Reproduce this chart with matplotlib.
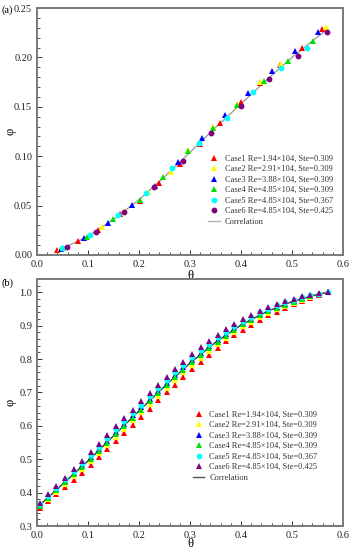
import matplotlib
matplotlib.use("Agg")
import matplotlib.pyplot as plt
from matplotlib.ticker import MultipleLocator

plt.rcParams['font.family'] = ['Liberation Serif', 'DejaVu Serif']
plt.rcParams['mathtext.fontset'] = 'stix'

labels = ["Case1 Re=1.94\u00d7104, Ste=0.309",
          "Case2 Re=2.91\u00d7104, Ste=0.309",
          "Case3 Re=3.88\u00d7104, Ste=0.309",
          "Case4 Re=4.85\u00d7104, Ste=0.309",
          "Case5 Re=4.85\u00d7104, Ste=0.367",
          "Case6 Re=4.85\u00d7104, Ste=0.425"]
colors = ["#ff0000", "#ffff00", "#0000ff", "#00e000", "#00ffff", "#800080"]

# ---------------- panel (a) ----------------
a_theta1 = [0.040, 0.081, 0.120, 0.163, 0.201, 0.240, 0.280, 0.320, 0.359, 0.400, 0.437, 0.476, 0.519, 0.559]
a_phi1 = [0.005, 0.014, 0.025, 0.041, 0.055, 0.073, 0.092, 0.112, 0.134, 0.155, 0.174, 0.192, 0.210, 0.229]
a_theta2 = [0.045, 0.127, 0.172, 0.218, 0.262, 0.297, 0.345, 0.392, 0.437, 0.478, 0.566]
a_phi2 = [0.006, 0.028, 0.045, 0.064, 0.084, 0.106, 0.130, 0.153, 0.175, 0.193, 0.231]
a_theta3 = [0.048, 0.092, 0.139, 0.186, 0.232, 0.277, 0.323, 0.369, 0.414, 0.461, 0.506, 0.551]
a_phi3 = [0.006, 0.017, 0.032, 0.051, 0.070, 0.094, 0.118, 0.142, 0.164, 0.186, 0.206, 0.226]
a_theta4 = [0.050, 0.098, 0.149, 0.201, 0.247, 0.297, 0.345, 0.392, 0.445, 0.493, 0.541]
a_phi4 = [0.007, 0.018, 0.036, 0.056, 0.079, 0.105, 0.129, 0.152, 0.176, 0.196, 0.217]
a_theta5 = [0.049, 0.104, 0.159, 0.213, 0.265, 0.318, 0.372, 0.424, 0.478, 0.529]
a_phi5 = [0.007, 0.020, 0.040, 0.063, 0.088, 0.113, 0.139, 0.165, 0.189, 0.210]
a_theta6 = [0.058, 0.115, 0.171, 0.229, 0.286, 0.341, 0.400, 0.455, 0.512, 0.569]
a_phi6 = [0.008, 0.023, 0.044, 0.069, 0.095, 0.123, 0.151, 0.178, 0.201, 0.226]
a_corr_theta = [0.04, 0.10, 0.15, 0.20, 0.25, 0.30, 0.35, 0.40, 0.45, 0.50, 0.57]
a_corr_phi = [0.004, 0.019, 0.036, 0.056, 0.079, 0.104, 0.129, 0.153, 0.177, 0.200, 0.229]

# ---------------- panel (b) ----------------
b_theta = [0.005, 0.022, 0.038, 0.055, 0.072, 0.088, 0.105, 0.121, 0.138, 0.155,
           0.171, 0.188, 0.204, 0.221, 0.238, 0.254, 0.271, 0.287, 0.304, 0.321,
           0.337, 0.354, 0.370, 0.387, 0.404, 0.420, 0.437, 0.453, 0.470, 0.487,
           0.503, 0.520, 0.536, 0.553, 0.570]
b_phi1 = [0.355, 0.376, 0.396, 0.418, 0.439, 0.460, 0.484, 0.507, 0.530, 0.555,
          0.578, 0.603, 0.627, 0.652, 0.676, 0.700, 0.723, 0.746, 0.769, 0.791,
          0.812, 0.834, 0.853, 0.871, 0.888, 0.902, 0.918, 0.931, 0.942, 0.953,
          0.964, 0.974, 0.983, 0.993, 1.000]
b_phi2 = [0.359, 0.382, 0.403, 0.426, 0.449, 0.470, 0.495, 0.518, 0.543, 0.568,
          0.592, 0.617, 0.641, 0.666, 0.690, 0.714, 0.737, 0.760, 0.783, 0.804,
          0.825, 0.846, 0.864, 0.882, 0.898, 0.911, 0.926, 0.938, 0.949, 0.960,
          0.969, 0.978, 0.986, 0.994, 1.000]
b_phi3 = [0.364, 0.388, 0.410, 0.435, 0.459, 0.482, 0.507, 0.531, 0.556, 0.583,
          0.607, 0.632, 0.656, 0.681, 0.705, 0.729, 0.752, 0.775, 0.798, 0.819,
          0.838, 0.858, 0.876, 0.893, 0.909, 0.921, 0.935, 0.947, 0.957, 0.966,
          0.975, 0.982, 0.989, 0.996, 1.000]
b_phi4 = [0.361, 0.385, 0.407, 0.431, 0.455, 0.477, 0.501, 0.525, 0.550, 0.576,
          0.600, 0.625, 0.649, 0.674, 0.698, 0.722, 0.745, 0.768, 0.791, 0.812,
          0.832, 0.852, 0.870, 0.887, 0.904, 0.917, 0.931, 0.943, 0.953, 0.963,
          0.972, 0.980, 0.988, 0.995, 1.000]
b_phi5 = [0.366, 0.391, 0.414, 0.440, 0.465, 0.488, 0.513, 0.538, 0.564, 0.590,
          0.615, 0.640, 0.664, 0.689, 0.713, 0.737, 0.760, 0.783, 0.806, 0.826,
          0.846, 0.865, 0.882, 0.899, 0.914, 0.926, 0.940, 0.951, 0.961, 0.970,
          0.978, 0.985, 0.991, 0.996, 1.000]
b_phi6 = [0.369, 0.395, 0.419, 0.445, 0.471, 0.495, 0.521, 0.546, 0.572, 0.599,
          0.624, 0.649, 0.673, 0.698, 0.722, 0.746, 0.769, 0.792, 0.815, 0.835,
          0.854, 0.873, 0.890, 0.906, 0.920, 0.932, 0.945, 0.956, 0.965, 0.974,
          0.981, 0.988, 0.992, 0.997, 1.000]
b_corr_theta = [0.0, 0.05, 0.10, 0.15, 0.20, 0.25, 0.30, 0.35, 0.40, 0.45, 0.50, 0.55, 0.57]
b_corr_phi = [0.355, 0.425, 0.495, 0.570, 0.645, 0.718, 0.788, 0.850, 0.902, 0.942, 0.972, 0.994, 1.000]

fig = plt.figure(figsize=(3.54, 5.50), dpi=100)
W, H = 354, 550
ax1 = fig.add_axes([37 / W, 1 - 255 / H, 306 / W, 247 / H])
ax2 = fig.add_axes([37 / W, 1 - 526 / H, 306 / W, 247 / H])

frame = "#7a7a7a"
ms = 4.2


def style(ax):
    for s in ax.spines.values():
        s.set_color(frame)
        s.set_linewidth(1.4)
    ax.tick_params(which='both', direction='in', colors='#333333', labelsize=7.5,
                   labelcolor='#222222', top=False, right=False)
    ax.tick_params(which='major', length=3.5, width=0.7)
    ax.tick_params(which='minor', length=2, width=0.6)
    ax.set_xlim(0, 0.6)
    ax.xaxis.set_major_locator(MultipleLocator(0.1))
    ax.xaxis.set_minor_locator(MultipleLocator(0.02))
    ax.xaxis.set_major_formatter(plt.FuncFormatter(lambda v, p: f"{v:.1f}"))


leg_kw = dict(loc='upper left', frameon=False, fontsize=6,
              handlelength=1.4, handletextpad=0.6, labelspacing=0.3,
              borderpad=0.2, labelcolor='#333333')

# panel a
ax1.plot(a_corr_theta, a_corr_phi, color="#a0a0a0", lw=1.0, zorder=1)
a_sets = [(a_theta1, a_phi1, '^'), (a_theta2, a_phi2, '^'), (a_theta3, a_phi3, '^'),
          (a_theta4, a_phi4, '^'), (a_theta5, a_phi5, 'o'), (a_theta6, a_phi6, 'o')]
handles = []
for (tx, py, mk), c, lab in zip(a_sets, colors, labels):
    h, = ax1.plot(tx, py, linestyle='none', marker=mk, color=c, markersize=ms,
                  markeredgewidth=0, label=lab, zorder=2)
    handles.append(h)
hc, = ax1.plot([], [], color="#b0b0b0", lw=1.0, label="Correlation")
style(ax1)
ax1.set_ylim(0, 0.25)
ax1.yaxis.set_major_locator(MultipleLocator(0.05))
ax1.yaxis.set_minor_locator(MultipleLocator(0.01))
ax1.yaxis.set_major_formatter(plt.FuncFormatter(lambda v, p: f"{v:.2f}"))
ax1.set_xlabel("\u03b8", fontsize=9, labelpad=1)
ax1.set_ylabel("\u03c6", fontsize=9)
ax1.yaxis.set_label_coords(-0.068, 0.5)
ax1.legend(handles + [hc], labels + ["Correlation"],
           bbox_to_anchor=(0.54, 0.43), **leg_kw)
fig.text(1 / W, 1 - 10 / H, "(a)", fontsize=7.5, va='center', ha='left')

# panel b
ax2.plot(b_corr_theta, b_corr_phi, color="#333333", lw=1.0, zorder=1)
b_sets = [(b_phi1, '^'), (b_phi2, '^'), (b_phi3, '^'), (b_phi4, '^'), (b_phi5, 'o'), (b_phi6, '^')]
handles = []
for (py, mk), c, lab in zip(b_sets, colors, labels):
    h, = ax2.plot(b_theta, py, linestyle='none', marker=mk, color=c, markersize=ms,
                  markeredgewidth=0, label=lab, zorder=2)
    handles.append(h)
hc, = ax2.plot([], [], color="#555555", lw=1.0, label="Correlation")
style(ax2)
ax2.set_ylim(0.3, 1.04)
ax2.yaxis.set_major_locator(MultipleLocator(0.1))
ax2.yaxis.set_minor_locator(MultipleLocator(0.02))
ax2.yaxis.set_major_formatter(plt.FuncFormatter(lambda v, p: f"{v:.1f}"))
ax2.set_xlabel("\u03b8", fontsize=9, labelpad=-1)
ax2.set_ylabel("\u03c6", fontsize=9)
ax2.yaxis.set_label_coords(-0.068, 0.5)
ax2.legend(handles + [hc], labels + ["Correlation"],
           bbox_to_anchor=(0.49, 0.49), **leg_kw)
fig.text(1 / W, 1 - 283 / H, "(b)", fontsize=7.5, va='center', ha='left')

fig.savefig("out.png", dpi=100)
